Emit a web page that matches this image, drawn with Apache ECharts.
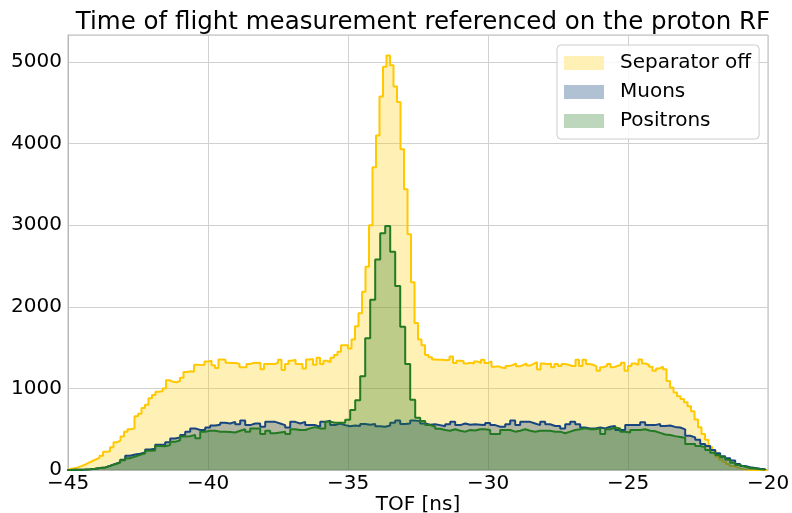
<!DOCTYPE html>
<html>
<head>
<meta charset="utf-8">
<script src="https://cdn.jsdelivr.net/npm/echarts@6/dist/echarts.min.js"></script>
<style>html,body{margin:0;padding:0;background:#fff;}#c{width:792px;height:513px;}</style>
</head>
<body>
<div id="c"></div>
<script>
// ---- data ----
const seriesNames = ['Separator off', 'Muons', 'Positrons'];
const xTicks = [-45, -40, -35, -30, -25, -20];
const yTicks = [0, 1000, 2000, 3000, 4000, 5000];

// Separator off: 200 bins, edges from -45 with width 0.125 ns
const sepStart = -45;
const sepWidth = 0.125;
const separatorOff = [
  15, 20, 35, 50, 70, 90, 110, 130, 150, 175,
  225, 230, 280, 340, 360, 410, 470, 500, 510, 660,
  690, 760, 800, 880, 920, 960, 965, 1000, 1100, 1080,
  1075, 1090, 1130, 1200, 1210, 1205, 1290, 1285, 1290, 1330,
  1340, 1285, 1250, 1355, 1350, 1315, 1310, 1310, 1300, 1260,
  1260, 1300, 1310, 1315, 1310, 1235, 1300, 1300, 1300, 1310,
  1350, 1225, 1300, 1340, 1350, 1300, 1300, 1245, 1355, 1360,
  1290, 1375, 1300, 1340, 1320, 1375, 1410, 1450, 1530, 1530,
  1490, 1600, 1760, 1920, 2185, 2490, 3000, 3710, 4100, 4575,
  4940, 5080, 4960, 4700, 4510, 3930, 3440, 2890, 2300, 1800,
  1600, 1530, 1410, 1380, 1355, 1350, 1350, 1345, 1350, 1390,
  1310, 1340, 1335, 1305, 1315, 1305, 1330, 1310, 1350, 1310,
  1330, 1265, 1270, 1255, 1245, 1275, 1285, 1305, 1270, 1285,
  1305, 1280, 1300, 1320, 1230, 1305, 1295, 1305, 1260, 1300,
  1275, 1300, 1290, 1275, 1275, 1350, 1275, 1350, 1300, 1290,
  1270, 1215, 1260, 1275, 1300, 1260, 1275, 1290, 1315, 1215,
  1275, 1305, 1290, 1355, 1305, 1290, 1265, 1215, 1245, 1265,
  1235, 1090, 1010, 950, 905, 870, 830, 780, 720, 620,
  525, 440, 370, 285, 245, 165, 130, 100, 75, 50,
  35, 20, 10, 5, 0, 0, 0, 0, 0, 0
];

// Muons and positrons: 140 bins, edges from -45.1 with width 25/140 ns
const partStart = -45.1;
const partWidth = 25 / 140;
const muons = [
  0, 2, 4, 6, 10, 15, 25, 32, 52, 75,
  95, 125, 175, 190, 200, 215, 250, 260, 310, 310,
  340, 385, 400, 430, 470, 510, 490, 490, 520, 545,
  555, 580, 570, 590, 560, 605, 550, 570, 570, 530,
  590, 590, 570, 550, 520, 590, 570, 590, 550, 550,
  530, 590, 605, 550, 570, 550, 535, 545, 540, 565,
  555, 565, 535, 530, 545, 580, 605, 565, 570, 605,
  600, 570, 555, 560, 550, 535, 560, 590, 550, 570,
  555, 560, 555, 550, 575, 550, 530, 530, 560, 605,
  550, 590, 590, 570, 550, 590, 560, 540, 540, 510,
  560, 590, 560, 520, 510, 510, 520, 510, 530, 540,
  490, 490, 550, 550, 550, 585, 550, 550, 565, 540,
  545, 528, 520, 498, 420, 400, 370, 320, 295, 245,
  205, 170, 145, 115, 75, 50, 33, 25, 16, 10
];
const positrons = [
  0, 2, 4, 6, 10, 15, 25, 30, 50, 70,
  90, 120, 145, 165, 185, 205, 235, 240, 295, 290,
  305, 345, 365, 410, 415, 430, 390, 470, 480, 480,
  470, 470, 465, 460, 480, 500, 470, 510, 510, 440,
  480, 450, 460, 470, 440, 500, 490, 490, 510, 525,
  510, 510, 590, 580, 580, 580, 615, 735, 855, 1150,
  1615, 2085, 2580, 2900, 2990, 2675, 2255, 1755, 1300, 860,
  640, 600, 550, 530, 505, 490, 480, 500, 480, 470,
  490, 485, 500, 500, 490, 440, 440, 490, 490, 470,
  480, 500, 480, 470, 480, 480, 480, 470, 470, 450,
  470, 490, 500, 510, 500, 500, 510, 440, 500, 520,
  510, 470, 460, 490, 490, 500, 480, 475, 455, 435,
  430, 415, 405, 395, 320, 320, 295, 280, 245, 210,
  185, 155, 125, 90, 60, 40, 25, 20, 8, 5
];

// ---- build step outlines from bin edges ----
function stepPoints(start, width, vals) {
  const pts = [[start, 0]];
  vals.forEach((v, i) => pts.push([start + i * width, v]));
  pts.push([start + vals.length * width, 0]);
  return pts;
}

const lineColors = ['#FFC800', '#17457f', '#237a23'];
const fillColors = ['rgba(255,210,30,0.33)', 'rgba(23,69,127,0.33)', 'rgba(35,122,35,0.30)'];
const legendColors = ['#FFF0B5', '#B0C1D4', '#BDD7BD'];

const datasets = [
  stepPoints(sepStart, sepWidth, separatorOff),
  stepPoints(partStart, partWidth, muons),
  stepPoints(partStart, partWidth, positrons)
];

const fmt = v => (v < 0 ? '\u2212' + Math.abs(v) : String(v));
const FONT = 'DejaVu Sans';

const chart = echarts.init(document.getElementById('c'), null, { renderer: 'canvas' });
chart.setOption({
  animation: false,
  backgroundColor: '#ffffff',
  title: {
    text: 'Time of flight measurement referenced on the proton RF',
    left: 418,
    textAlign: 'center',
    top: 5,
    textStyle: { fontFamily: FONT, fontSize: 24.5, fontWeight: 'normal', color: '#000' }
  },
  grid: {
    left: 68, right: 24, top: 35, bottom: 43,
    containLabel: false, outerBoundsMode: 'none',
    show: true, borderColor: '#b8b8b8', borderWidth: 1, backgroundColor: 'transparent'
  },
  legend: {
    orient: 'vertical',
    left: 557, top: 45,
    padding: [8, 8, 8, 7],
    itemWidth: 40, itemHeight: 14, itemGap: 9,
    backgroundColor: 'rgba(255,255,255,0.85)',
    borderColor: '#cccccc', borderWidth: 1, borderRadius: 4,
    textStyle: { fontFamily: FONT, fontSize: 20, color: '#000', padding: [0, 0, 0, 11], lineHeight: 20 },
    data: seriesNames.map((n, i) => ({ name: n, icon: 'rect', itemStyle: { color: legendColors[i], borderWidth: 0 } }))
  },
  xAxis: {
    type: 'value', min: xTicks[0], max: xTicks[xTicks.length - 1], interval: 5,
    name: 'TOF [ns]', nameLocation: 'middle', nameGap: 35, nameMoveOverlap: false,
    nameTextStyle: { fontFamily: FONT, fontSize: 20, color: '#000', verticalAlign: 'middle' },
    axisLine: { show: true, onZero: false, lineStyle: { color: '#b8b8b8', width: 1 } },
    axisTick: { show: false },
    axisLabel: { fontFamily: FONT, fontSize: 20, color: '#000', margin: 4, formatter: fmt },
    splitLine: { show: true, lineStyle: { color: '#d0d0d0', width: 1 } }
  },
  yAxis: {
    type: 'value', min: yTicks[0], max: 5330, interval: 1000,
    axisLine: { show: true, lineStyle: { color: '#b8b8b8', width: 1 } },
    axisTick: { show: false },
    axisLabel: { fontFamily: FONT, fontSize: 20, color: '#000', margin: 6, showMaxLabel: false, formatter: fmt },
    splitLine: { show: true, lineStyle: { color: '#d0d0d0', width: 1 } }
  },
  series: seriesNames.map((n, i) => ({
    name: n,
    type: 'line',
    step: 'end',
    data: datasets[i],
    symbol: 'none',
    showSymbol: false,
    silent: true,
    clip: true,
    itemStyle: { color: legendColors[i] },
    lineStyle: { color: lineColors[i], width: 2 },
    areaStyle: { color: fillColors[i], opacity: 1, origin: 'start' },
    z: 2 + i
  }))
});
</script>
</body>
</html>
